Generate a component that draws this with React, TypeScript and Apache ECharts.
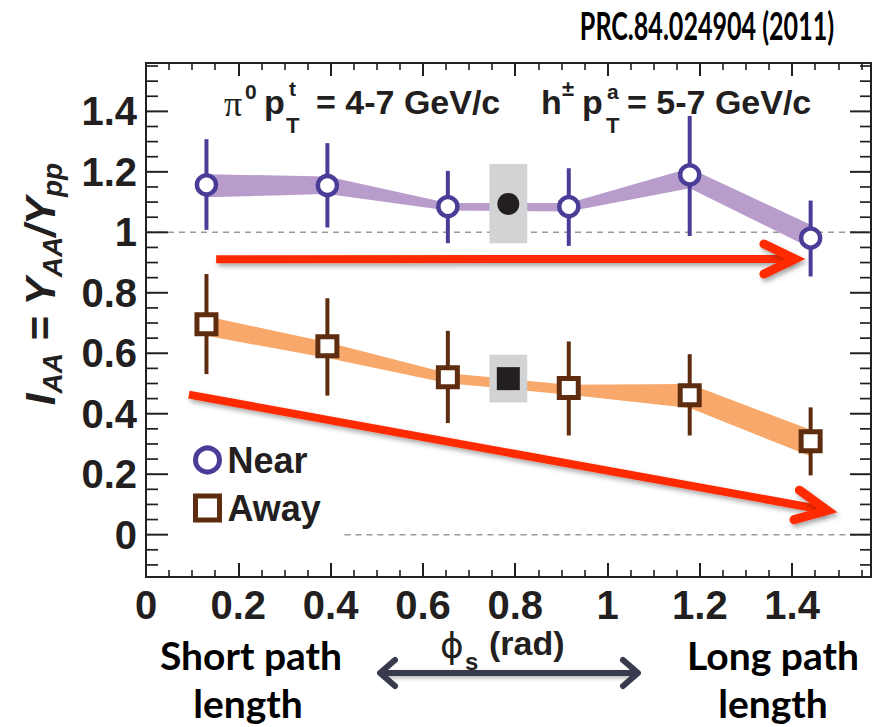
import React, { useEffect, useRef } from 'react';
import * as echarts from 'echarts';

// ---------- data ----------
const PHI_MAX = Math.PI / 2;
const Y_MIN = -0.14;
const Y_MAX = 1.56;
const phiBins = [0.131, 0.393, 0.654, 0.916, 1.178, 1.44];

const nearIAA = [1.157, 1.155, 1.085, 1.085, 1.19, 0.981];
const nearStatHi = [1.308, 1.295, 1.203, 1.212, 1.385, 1.105];
const nearStatLo = [1.008, 1.016, 0.964, 0.955, 0.988, 0.854];
const nearSysHi = [1.192, 1.185, 1.097, 1.097, 1.212, 1.025];
const nearSysLo = [1.116, 1.127, 1.072, 1.069, 1.146, 0.948];

const awayIAA = [0.696, 0.623, 0.521, 0.485, 0.461, 0.309];
const awayStatHi = [0.862, 0.782, 0.674, 0.639, 0.597, 0.421];
const awayStatLo = [0.531, 0.46, 0.369, 0.328, 0.328, 0.196];
const awaySysHi = [0.722, 0.636, 0.534, 0.496, 0.498, 0.347];
const awaySysLo = [0.658, 0.584, 0.501, 0.463, 0.419, 0.259];

// inclusive (phi-integrated) points: [value, sysLo, sysHi]
const inclPhi = 0.785;
const nearIncl = [1.094, 0.964, 1.226];
const awayIncl = [0.516, 0.437, 0.595];

const xTickValues = [0, 0.2, 0.4, 0.6, 0.8, 1, 1.2, 1.4];
const xMinorValues = [0.05, 0.1, 0.15, 0.25, 0.3, 0.35, 0.45, 0.5, 0.55, 0.65, 0.7, 0.75, 0.85, 0.9, 0.95, 1.05, 1.1, 1.15, 1.25, 1.3, 1.35, 1.45, 1.5, 1.55];
const yTickValues = [0, 0.2, 0.4, 0.6, 0.8, 1, 1.2, 1.4];
const yMinorValues = [-0.1, -0.05, 0.05, 0.1, 0.15, 0.25, 0.3, 0.35, 0.45, 0.5, 0.55, 0.65, 0.7, 0.75, 0.85, 0.9, 0.95, 1.05, 1.1, 1.15, 1.25, 1.3, 1.35, 1.45, 1.5, 1.55];
const yLabelRange = [0, 1.4, 0.2];

// reference dashed lines [x0, y0, x1, y1]
const refLines = [
  [0, 1, PHI_MAX, 1],
  [0.43, 0, PHI_MAX, 0],
];
// red trend arrows [x0, y0, x1, y1]
const trendArrows = [
  [0.152, 0.911, 1.406, 0.912],
  [0.093, 0.463, 1.476, 0.08],
];

// ---------- layout / styles ----------
const GRID = { left: 146, right: 6, top: 63, bottom: 150 };
const PLOT_H = 727 - GRID.top - GRID.bottom;
const PX_PER_UNIT = PLOT_H / (Y_MAX - Y_MIN);
const subGrid = (lo: number, hi: number) => ({
  left: GRID.left,
  right: GRID.right,
  top: GRID.top + (Y_MAX - hi) * PX_PER_UNIT,
  bottom: GRID.bottom + (lo - Y_MIN) * PX_PER_UNIT,
});

const INK = '#231F20';
const NEAR = '#4A3D98';
const NEAR_BAND = '#B89CCB';
const AWAY = '#5E2D0F';
const AWAY_BAND = '#F7A86A';
const BOX = '#D1D3D4';
const RED = '#FF2A00';
const SLATE = '#383B4D';
const F = "'Liberation Sans', Arial, Helvetica, sans-serif";
const CAL = "Lato, 'Open Sans', sans-serif";
const INCL_HALF_WIDTH = 0.041;

const fmt = (v: number) => String(parseFloat(Number(v).toFixed(2)));

function xAxisDef(position: string, ticks: number[], len: number, width: number, showLine: boolean, showLabel: boolean) {
  return {
    type: 'value',
    gridIndex: 0,
    position,
    min: 0,
    max: PHI_MAX,
    axisLine: { show: showLine, onZero: false, lineStyle: { color: INK, width: 2 } },
    axisTick: { show: true, inside: true, length: len, customValues: ticks, lineStyle: { color: INK, width } },
    axisLabel: showLabel
      ? { show: true, customValues: ticks, formatter: fmt, fontSize: 40, fontWeight: 'bold', fontFamily: F, color: INK, margin: 8 }
      : { show: false },
    splitLine: { show: false },
  };
}
function yFrameAxis(position: string) {
  return {
    type: 'value',
    gridIndex: 0,
    position,
    min: Y_MIN,
    max: Y_MAX,
    axisLine: { show: true, onZero: false, lineStyle: { color: INK, width: 2 } },
    axisTick: { show: false },
    axisLabel: { show: false },
    splitLine: { show: false },
  };
}

function bandSeries(name: string, lo: number[], hi: number[], color: string) {
  return {
    type: 'custom',
    name,
    xAxisIndex: 0,
    yAxisIndex: 0,
    z: 2,
    silent: true,
    data: phiBins.map((x, i) => [x, lo[i], hi[i]]),
    renderItem: (params: any, api: any) => {
      if (params.dataIndex !== 0) return null;
      const pts: number[][] = [];
      phiBins.forEach((x, i) => pts.push(api.coord([x, hi[i]])));
      for (let i = phiBins.length - 1; i >= 0; i--) pts.push(api.coord([phiBins[i], lo[i]]));
      return { type: 'polygon', shape: { points: pts }, style: { fill: color } };
    },
  };
}

function errSeries(name: string, lo: number[], hi: number[], color: string) {
  return {
    type: 'custom',
    name,
    xAxisIndex: 0,
    yAxisIndex: 0,
    z: 4,
    silent: true,
    data: phiBins.map((x, i) => [x, lo[i], hi[i]]),
    renderItem: (params: any, api: any) => {
      const a = api.coord([api.value(0), api.value(1)]);
      const b = api.coord([api.value(0), api.value(2)]);
      return { type: 'rect', shape: { x: a[0] - 2, y: b[1], width: 4, height: a[1] - b[1] }, style: { fill: color } };
    },
  };
}

const option: any = {
  animation: false,
  backgroundColor: '#ffffff',
  grid: [
    { ...GRID, outerBoundsMode: 'none', containLabel: false },
    { ...subGrid(yLabelRange[0], yLabelRange[1]), outerBoundsMode: 'none', containLabel: false },
  ],
  xAxis: [
    xAxisDef('bottom', xTickValues, 14, 2, true, true),
    xAxisDef('bottom', xMinorValues, 7, 1.6, false, false),
    xAxisDef('top', xTickValues, 13, 2, true, false),
    xAxisDef('top', xMinorValues, 7, 1.6, false, false),
    { type: 'value', gridIndex: 1, min: 0, max: 1, show: false },
  ],
  yAxis: [
    yFrameAxis('left'),
    yFrameAxis('right'),
    {
      type: 'value',
      gridIndex: 1,
      position: 'left',
      min: yLabelRange[0],
      max: yLabelRange[1],
      interval: yLabelRange[2],
      axisLine: { show: false, onZero: false },
      axisTick: { show: false },
      axisLabel: { show: true, formatter: fmt, fontSize: 40, fontWeight: 'bold', fontFamily: F, color: INK, margin: 9, showMinLabel: true, showMaxLabel: true },
      splitLine: { show: false },
    },
  ],
  legend: {
    orient: 'vertical',
    left: 188,
    top: 437,
    itemWidth: 24,
    itemHeight: 24,
    itemGap: 12,
    selectedMode: false,
    textStyle: { fontSize: 36, fontWeight: 'bold', fontFamily: F, color: INK, lineHeight: 36, padding: [0, 0, 0, 3] },
    data: [
      { name: 'Near', icon: 'circle', itemStyle: { color: '#ffffff', borderColor: NEAR, borderWidth: 5 } },
      { name: 'Away', icon: 'rect', itemStyle: { color: '#ffffff', borderColor: AWAY, borderWidth: 5 } },
    ],
  },
  series: [
    {
      type: 'custom',
      name: 'ref',
      xAxisIndex: 0,
      yAxisIndex: 0,
      z: 1,
      silent: true,
      data: refLines,
      renderItem: (params: any, api: any) => {
        const a = api.coord([api.value(0), api.value(1)]);
        const b = api.coord([api.value(2), api.value(3)]);
        return { type: 'line', shape: { x1: a[0], y1: a[1], x2: b[0], y2: b[1] }, style: { stroke: '#9A9A9A', lineWidth: 1.5, lineDash: [6, 5] } };
      },
    },
    {
      // y tick marks on the left and right frame, placed through the y scale
      type: 'custom',
      name: 'yTicks',
      xAxisIndex: 0,
      yAxisIndex: 0,
      z: 7,
      silent: true,
      clip: false,
      data: [...yTickValues.map((v) => [v, 1]), ...yMinorValues.map((v) => [v, 0])],
      renderItem: (params: any, api: any) => {
        const v = api.value(0);
        const major = api.value(1) === 1;
        const l = api.coord([0, v]);
        const r = api.coord([PHI_MAX, v]);
        const lenL = major ? 22 : 12;
        const lenR = major ? 21 : 11;
        const w = major ? 2 : 1.7;
        return {
          type: 'group',
          children: [
            { type: 'rect', shape: { x: l[0], y: l[1] - w / 2, width: lenL, height: w }, style: { fill: INK } },
            { type: 'rect', shape: { x: r[0] - lenR, y: r[1] - w / 2, width: lenR, height: w }, style: { fill: INK } },
          ],
        };
      },
    },
    bandSeries('nearBand', nearSysLo, nearSysHi, NEAR_BAND),
    bandSeries('awayBand', awaySysLo, awaySysHi, AWAY_BAND),
    {
      type: 'custom',
      name: 'inclBox',
      xAxisIndex: 0,
      yAxisIndex: 0,
      z: 3,
      silent: true,
      data: [
        [inclPhi, nearIncl[1], nearIncl[2]],
        [inclPhi, awayIncl[1], awayIncl[2]],
      ],
      renderItem: (params: any, api: any) => {
        const a = api.coord([api.value(0) - INCL_HALF_WIDTH, api.value(2)]);
        const b = api.coord([api.value(0) + INCL_HALF_WIDTH, api.value(1)]);
        return { type: 'rect', shape: { x: a[0], y: a[1], width: b[0] - a[0], height: b[1] - a[1] }, style: { fill: BOX } };
      },
    },
    errSeries('nearErr', nearStatLo, nearStatHi, NEAR),
    errSeries('awayErr', awayStatLo, awayStatHi, AWAY),
    {
      type: 'scatter',
      name: 'Near',
      xAxisIndex: 0,
      yAxisIndex: 0,
      z: 5,
      symbol: 'circle',
      symbolSize: 19,
      itemStyle: { color: '#ffffff', borderColor: NEAR, borderWidth: 4.5, opacity: 1 },
      data: phiBins.map((x, i) => [x, nearIAA[i]]),
    },
    {
      type: 'scatter',
      name: 'Away',
      xAxisIndex: 0,
      yAxisIndex: 0,
      z: 5,
      symbol: 'rect',
      symbolSize: 19,
      itemStyle: { color: '#ffffff', borderColor: AWAY, borderWidth: 5, opacity: 1 },
      data: phiBins.map((x, i) => [x, awayIAA[i]]),
    },
    {
      type: 'scatter',
      name: 'NearIncl',
      xAxisIndex: 0,
      yAxisIndex: 0,
      z: 5,
      symbol: 'circle',
      symbolSize: 22,
      itemStyle: { color: INK, opacity: 1 },
      data: [[inclPhi, nearIncl[0]]],
    },
    {
      type: 'scatter',
      name: 'AwayIncl',
      xAxisIndex: 0,
      yAxisIndex: 0,
      z: 5,
      symbol: 'rect',
      symbolSize: 23,
      itemStyle: { color: INK, opacity: 1 },
      data: [[inclPhi, awayIncl[0]]],
    },
    {
      type: 'custom',
      name: 'arrows',
      xAxisIndex: 0,
      yAxisIndex: 0,
      z: 6,
      silent: true,
      data: trendArrows,
      renderItem: (params: any, api: any) => {
        const p1 = api.coord([api.value(0), api.value(1)]);
        const p2 = api.coord([api.value(2), api.value(3)]);
        const dx = p2[0] - p1[0];
        const dy = p2[1] - p1[1];
        const len = Math.sqrt(dx * dx + dy * dy);
        const ux = dx / len;
        const uy = dy / len;
        const nx = -uy;
        const ny = ux;
        const L = 31;
        const W = 15;
        const hw = 4;
        const e = [p2[0] - ux * 3, p2[1] - uy * 3];
        const shadow = { shadowBlur: 5, shadowColor: 'rgba(0,0,0,0.35)', shadowOffsetX: 2, shadowOffsetY: 3 };
        return {
          type: 'group',
          children: [
            {
              type: 'polygon',
              shape: {
                points: [
                  [p1[0] + nx * hw, p1[1] + ny * hw],
                  [e[0] + nx * hw, e[1] + ny * hw],
                  [e[0] - nx * hw, e[1] - ny * hw],
                  [p1[0] - nx * hw, p1[1] - ny * hw],
                ],
              },
              style: { fill: RED, ...shadow },
            },
            {
              type: 'polyline',
              shape: { points: [[p2[0] - ux * L + nx * W, p2[1] - uy * L + ny * W], [p2[0], p2[1]], [p2[0] - ux * L - nx * W, p2[1] - uy * L - ny * W]] },
              style: { stroke: RED, lineWidth: 9, fill: null, lineCap: 'round', lineJoin: 'miter', ...shadow },
            },
          ],
        };
      },
    },
  ],
  graphic: [
    // y-axis title
    {
      type: 'text',
      x: 40,
      y: 284,
      rotation: Math.PI / 2,
      silent: true,
      style: {
        text: '{m|I}{s|AA}{m| = Y}{s|AA}{m|/Y}{s|pp}',
        rich: {
          m: { fontSize: 42, fontWeight: 'bold', fontStyle: 'italic', fontFamily: F, lineHeight: 52, fill: INK, color: INK },
          s: { fontSize: 28, fontWeight: 'bold', fontStyle: 'italic', fontFamily: F, lineHeight: 28, verticalAlign: 'bottom', fill: INK, color: INK },
        },
        textAlign: 'center',
        textVerticalAlign: 'middle',
      },
    },
    // title
    {
      type: 'text',
      x: 707,
      y: 25,
      scaleX: 0.66,
      silent: true,
      style: { text: 'PRC.84.024904 (2011)', fontSize: 38, fontWeight: 'bold', fontFamily: CAL, fill: '#000000', textAlign: 'center', textVerticalAlign: 'middle' },
    },
    // kinematics annotation
    { type: 'text', x: 224, y: 104, silent: true, style: { text: 'π', fontSize: 36, fontFamily: "'Liberation Serif', serif", fill: INK, textAlign: 'left', textVerticalAlign: 'middle' } },
    { type: 'text', x: 245, y: 91, silent: true, style: { text: '0', fontSize: 21, fontWeight: 'bold', fontFamily: F, fill: INK, textAlign: 'left', textVerticalAlign: 'middle' } },
    { type: 'text', x: 264, y: 102, silent: true, style: { text: 'p', fontSize: 34, fontWeight: 'bold', fontFamily: F, fill: INK, textAlign: 'left', textVerticalAlign: 'middle' } },
    { type: 'text', x: 289, y: 88, silent: true, style: { text: 't', fontSize: 21, fontWeight: 'bold', fontFamily: F, fill: INK, textAlign: 'left', textVerticalAlign: 'middle' } },
    { type: 'text', x: 286, y: 125, silent: true, style: { text: 'T', fontSize: 22, fontWeight: 'bold', fontFamily: F, fill: INK, textAlign: 'left', textVerticalAlign: 'middle' } },
    { type: 'text', x: 316, y: 102, silent: true, style: { text: '= 4-7 GeV/c', fontSize: 34, fontWeight: 'bold', fontFamily: F, fill: INK, textAlign: 'left', textVerticalAlign: 'middle' } },
    { type: 'text', x: 541, y: 102, silent: true, style: { text: 'h', fontSize: 34, fontWeight: 'bold', fontFamily: F, fill: INK, textAlign: 'left', textVerticalAlign: 'middle' } },
    { type: 'text', x: 562, y: 88, silent: true, style: { text: '±', fontSize: 22, fontWeight: 'bold', fontFamily: F, fill: INK, textAlign: 'left', textVerticalAlign: 'middle' } },
    { type: 'text', x: 582, y: 102, silent: true, style: { text: 'p', fontSize: 34, fontWeight: 'bold', fontFamily: F, fill: INK, textAlign: 'left', textVerticalAlign: 'middle' } },
    { type: 'text', x: 607, y: 91, silent: true, style: { text: 'a', fontSize: 21, fontWeight: 'bold', fontFamily: F, fill: INK, textAlign: 'left', textVerticalAlign: 'middle' } },
    { type: 'text', x: 606, y: 125, silent: true, style: { text: 'T', fontSize: 22, fontWeight: 'bold', fontFamily: F, fill: INK, textAlign: 'left', textVerticalAlign: 'middle' } },
    { type: 'text', x: 627, y: 102, silent: true, style: { text: '= 5-7 GeV/c', fontSize: 34, fontWeight: 'bold', fontFamily: F, fill: INK, textAlign: 'left', textVerticalAlign: 'middle' } },
    // x-axis title
    { type: 'text', x: 440, y: 645, silent: true, style: { text: 'ϕ', fontSize: 36, fontFamily: "'DejaVu Sans', sans-serif", fill: INK, textAlign: 'left', textVerticalAlign: 'middle' } },
    { type: 'text', x: 465, y: 661, silent: true, style: { text: 's', fontSize: 24, fontWeight: 'bold', fontFamily: F, fill: INK, textAlign: 'left', textVerticalAlign: 'middle' } },
    { type: 'text', x: 489, y: 643, silent: true, style: { text: '(rad)', fontSize: 34, fontWeight: 'bold', fontFamily: F, fill: INK, textAlign: 'left', textVerticalAlign: 'middle' } },
    // path length labels
    { type: 'text', x: 251, y: 655, silent: true, style: { text: 'Short path', fontSize: 39, fontWeight: 'bold', fontFamily: CAL, fill: '#000000', textAlign: 'center', textVerticalAlign: 'middle' } },
    { type: 'text', x: 248, y: 703, silent: true, style: { text: 'length', fontSize: 39, fontWeight: 'bold', fontFamily: CAL, fill: '#000000', textAlign: 'center', textVerticalAlign: 'middle' } },
    { type: 'text', x: 773, y: 655, silent: true, style: { text: 'Long path', fontSize: 39, fontWeight: 'bold', fontFamily: CAL, fill: '#000000', textAlign: 'center', textVerticalAlign: 'middle' } },
    { type: 'text', x: 773, y: 703, silent: true, style: { text: 'length', fontSize: 39, fontWeight: 'bold', fontFamily: CAL, fill: '#000000', textAlign: 'center', textVerticalAlign: 'middle' } },
    // double-headed arrow
    {
      type: 'group',
      silent: true,
      children: [
        { type: 'rect', shape: { x: 384, y: 670, width: 250, height: 6 }, style: { fill: SLATE, shadowBlur: 4, shadowColor: 'rgba(0,0,0,0.3)', shadowOffsetY: 2 } },
        { type: 'polyline', shape: { points: [[395, 660], [380, 673], [395, 686]] }, style: { stroke: SLATE, lineWidth: 6, fill: null, lineCap: 'round', lineJoin: 'round' } },
        { type: 'polyline', shape: { points: [[623, 660], [638, 673], [623, 686]] }, style: { stroke: SLATE, lineWidth: 6, fill: null, lineCap: 'round', lineJoin: 'round' } },
      ],
    },
  ],
};

export default function App() {
  const ref = useRef<HTMLDivElement>(null);
  useEffect(() => {
    if (!ref.current) return;
    const chart = echarts.init(ref.current, null, { renderer: 'svg' });
    chart.setOption(option);
    return () => chart.dispose();
  }, []);
  return <div ref={ref} style={{ position: 'fixed', left: 0, top: 0, width: 877, height: 727, background: '#ffffff' }} />;
}
